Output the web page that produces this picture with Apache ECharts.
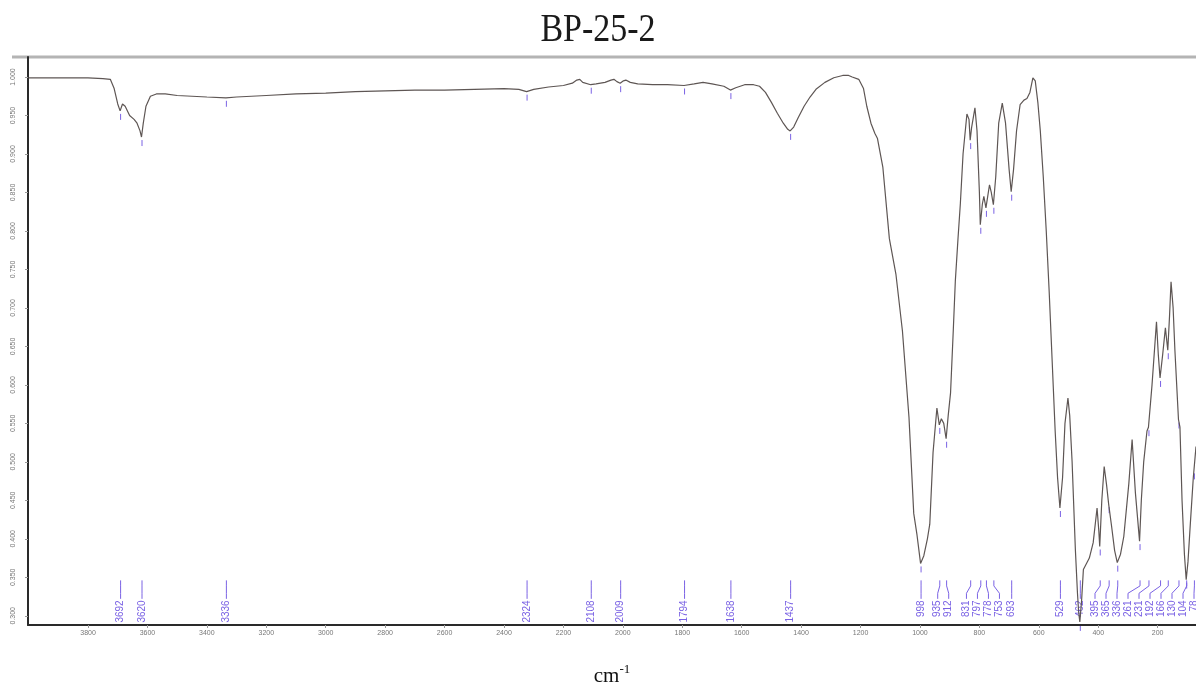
<!DOCTYPE html>
<html>
<head>
<meta charset="utf-8">
<script src="https://cdn.jsdelivr.net/npm/echarts@6/dist/echarts.min.js"></script>
<style>
  html, body { margin: 0; padding: 0; background: #ffffff; }
  #chart { width: 1196px; height: 686px; }
</style>
</head>
<body>
<div id="chart"></div>
<script>
// ---- data ----
const chartTitle = 'BP-25-2';

const wavenumber = [
  4000, 3900, 3800, 3750, 3725, 3712, 3700, 3692, 3684, 3675, 3660, 3645, 3635, 3625, 3620, 3614, 3605, 3590, 3570, 3540, 3500, 3450, 3400, 3336,
  3300, 3200, 3100, 3000, 2900, 2800, 2700, 2600, 2500, 2400, 2350, 2324, 2300, 2250, 2200, 2170, 2155, 2145, 2135, 2108, 2090, 2060, 2040, 2030, 2020, 2009,
  1998, 1990, 1975, 1950, 1900, 1850, 1794, 1760, 1730, 1700, 1660, 1638, 1620, 1590, 1560, 1540, 1520, 1500, 1480, 1460, 1445, 1437, 1425, 1410, 1390, 1370, 1350, 1320, 1290, 1260, 1240, 1228,
  1206, 1190, 1179, 1165, 1152, 1143, 1125, 1103, 1081, 1059, 1037, 1021, 1010, 998, 987, 975, 967, 956, 943, 935, 928, 920, 912, 905, 897,
  888, 881, 872, 864, 855, 842, 835, 831, 826, 815, 808, 800, 797, 790, 785, 778, 772, 766, 760, 753, 745, 735, 723, 712, 700, 693, 685, 675, 663, 650, 640, 630, 620, 612, 603,
  595, 585, 575, 565, 555, 545, 537, 529, 520, 512, 502, 496, 488, 477, 470, 466, 462, 456, 450, 445, 430, 417, 404, 398, 395,
  388, 380, 372, 365, 355, 345, 336, 325, 314, 297, 286, 275, 261, 255, 247, 236, 231, 219, 204, 198, 192, 183, 174, 166, 160, 155, 148, 142, 130, 125, 118, 110, 104, 98, 90, 80, 71
];

const transmittance = [
  0.999, 0.999, 0.999, 0.998, 0.997, 0.985, 0.965, 0.956, 0.965, 0.962, 0.950, 0.945, 0.940, 0.930, 0.922, 0.940, 0.962, 0.975, 0.978, 0.978, 0.976, 0.975, 0.974, 0.973,
  0.974, 0.976, 0.978, 0.979, 0.981, 0.982, 0.983, 0.983, 0.984, 0.985, 0.984, 0.981, 0.984, 0.987, 0.989, 0.992, 0.996, 0.997, 0.993, 0.990, 0.991, 0.993, 0.996, 0.997, 0.994, 0.992,
  0.995, 0.996, 0.993, 0.991, 0.990, 0.990, 0.989, 0.991, 0.993, 0.991, 0.988, 0.983, 0.986, 0.990, 0.990, 0.988, 0.980, 0.967, 0.953, 0.940, 0.932, 0.930, 0.935, 0.947, 0.962, 0.974, 0.984, 0.993, 0.999, 1.002, 1.002, 1.000,
  0.997, 0.985, 0.962, 0.940, 0.927, 0.920, 0.883, 0.790, 0.744, 0.670, 0.558, 0.433, 0.405, 0.368, 0.378, 0.400, 0.419, 0.512, 0.570, 0.548, 0.556, 0.550, 0.530, 0.560, 0.590,
  0.670, 0.735, 0.790, 0.836, 0.900, 0.952, 0.945, 0.918, 0.935, 0.960, 0.930, 0.850, 0.808, 0.835, 0.845, 0.830, 0.845, 0.860, 0.850, 0.834, 0.870, 0.940, 0.966, 0.940, 0.880, 0.851, 0.880, 0.930, 0.964, 0.970, 0.972, 0.980, 0.999, 0.995, 0.966,
  0.930, 0.870, 0.800, 0.720, 0.630, 0.540, 0.480, 0.440, 0.480, 0.550, 0.583, 0.560, 0.500, 0.386, 0.330, 0.305, 0.292, 0.320, 0.360, 0.362, 0.375, 0.395, 0.440, 0.410, 0.390,
  0.450, 0.494, 0.470, 0.445, 0.416, 0.385, 0.369, 0.380, 0.403, 0.472, 0.529, 0.460, 0.397, 0.450, 0.500, 0.540, 0.545, 0.600, 0.682, 0.640, 0.609, 0.640, 0.674, 0.645, 0.690, 0.734, 0.700, 0.645, 0.555, 0.545, 0.450, 0.380, 0.347, 0.370, 0.420, 0.480, 0.520
];

const peakLabels = [3692, 3620, 3336, 2324, 2108, 2009, 1794, 1638, 1437, 998, 935, 912, 831, 797, 778, 753, 693, 529, 462, 395, 365, 336, 261, 231, 192, 166, 130, 104, 78];

const xTickValues = [3800, 3600, 3400, 3200, 3000, 2800, 2600, 2400, 2200, 2000, 1800, 1600, 1400, 1200, 1000, 800, 600, 400, 200];
const yTickValues = [0.300, 0.350, 0.400, 0.450, 0.500, 0.550, 0.600, 0.650, 0.700, 0.750, 0.800, 0.850, 0.900, 0.950, 1.000];

// ---- chart ----
const PEAK_COLOR = '#7a62e4';
const chart = echarts.init(document.getElementById('chart'), null, { renderer: 'canvas' });

const curve = wavenumber.map((v, i) => [v, transmittance[i]]);

chart.setOption({
  animation: false,
  backgroundColor: '#ffffff',
  grid: { left: 28, right: 0, top: 57, bottom: 61, containLabel: false, outerBoundsMode: 'none' },
  xAxis: {
    type: 'value',
    inverse: true,
    min: 71,
    max: 4002,
    name: '{a|cm}{b|-1}',
    nameLocation: 'middle',
    nameGap: 38,
    nameTextStyle: {
      rich: {
        a: { fontFamily: 'Liberation Serif', fontSize: 21, color: '#111', lineHeight: 24, verticalAlign: 'bottom' },
        b: { fontFamily: 'Liberation Serif', fontSize: 13, color: '#111', lineHeight: 24, verticalAlign: 'top', padding: [0, 0, 10, 0] }
      }
    },
    axisLine: { show: true, onZero: false, lineStyle: { color: '#2a2a2a', width: 2 } },
    axisTick: { show: true, length: 3, customValues: xTickValues, lineStyle: { color: '#999' } },
    axisLabel: {
      customValues: xTickValues,
      fontSize: 7, color: '#777', margin: 5, fontFamily: 'Liberation Sans',
      formatter: v => String(Math.round(v))
    },
    splitLine: { show: false }
  },
  yAxis: {
    type: 'value',
    min: 0.288,
    max: 1.026,
    axisLine: { show: true, onZero: false, lineStyle: { color: '#2a2a2a', width: 2 } },
    axisTick: { show: true, length: 3, customValues: yTickValues, lineStyle: { color: '#999' } },
    axisLabel: {
      customValues: yTickValues,
      rotate: 90,
      fontSize: 7, color: '#777', margin: 11, fontFamily: 'Liberation Sans',
      formatter: v => v.toFixed(3)
    },
    splitLine: { show: false }
  },
  series: [{
    type: 'line',
    data: curve,
    showSymbol: false,
    symbol: 'none',
    smooth: false,
    clip: true,
    lineStyle: { color: '#5e5654', width: 1.2 }
  }]
});

// interpolate the curve at a wavenumber (for the peak tick marks)
function curveAt(v) {
  for (let i = 0; i < wavenumber.length - 1; i++) {
    const a = wavenumber[i], b = wavenumber[i + 1];
    if (v <= a && v >= b) {
      const t = (a - v) / (a - b);
      return transmittance[i] + t * (transmittance[i + 1] - transmittance[i]);
    }
  }
  return transmittance[transmittance.length - 1];
}

// spread crowded peak labels like the spectrometer software does
function spread(xs, gap, maxX) {
  const groups = xs.map((x, i) => ({ idx: [i], ideal: [x], start: x }));
  const place = g => {
    const n = g.idx.length;
    const mean = g.ideal.reduce((s, q) => s + q, 0) / n;
    g.start = mean - (n - 1) * gap / 2;
    if (g.start + (n - 1) * gap > maxX) g.start = maxX - (n - 1) * gap;
  };
  groups.forEach(place);
  let changed = true;
  while (changed) {
    changed = false;
    for (let i = 0; i < groups.length - 1; i++) {
      const a = groups[i], b = groups[i + 1];
      if (a.start + a.idx.length * gap > b.start) {
        a.idx = a.idx.concat(b.idx);
        a.ideal = a.ideal.concat(b.ideal);
        place(a);
        groups.splice(i + 1, 1);
        changed = true;
        break;
      }
    }
  }
  const out = new Array(xs.length);
  groups.forEach(g => g.idx.forEach((id, k) => { out[id] = g.start + k * gap; }));
  return out;
}

const peakPx = peakLabels.map(v => chart.convertToPixel({ xAxisIndex: 0 }, v));
const labelPx = spread(peakPx, 11, 1193.5);
const graphics = [];

// title (slightly tall, as in the reference)
graphics.push({
  type: 'text', silent: true, x: 598, y: 30, scaleY: 1.18,
  style: {
    text: chartTitle, fontSize: 34, fontFamily: 'Liberation Serif', fill: '#1a1a1a',
    align: 'center', verticalAlign: 'middle', textAlign: 'center', textVerticalAlign: 'middle'
  }
});

// top frame line
graphics.push({ type: 'line', silent: true, shape: { x1: 12, y1: 57, x2: 1196, y2: 57 }, style: { stroke: '#b4b4b4', lineWidth: 3 } });

const yLineTop = chart.convertToPixel({ yAxisIndex: 0 }, 0.346);
const yLineBot = chart.convertToPixel({ yAxisIndex: 0 }, 0.322);
const yText = chart.convertToPixel({ yAxisIndex: 0 }, 0.320);

peakLabels.forEach((v, i) => {
  const px = peakPx[i] + 0.5, lx = labelPx[i] + 0.5;
  const cy = chart.convertToPixel({ yAxisIndex: 0 }, curveAt(v));
  graphics.push({ type: 'line', silent: true, shape: { x1: px, y1: cy + 3, x2: px, y2: cy + 9 }, style: { stroke: PEAK_COLOR, lineWidth: 1 } });
  const bend1 = yLineTop + (yLineBot - yLineTop) * 0.3;
  const bend2 = yLineTop + (yLineBot - yLineTop) * 0.7;
  graphics.push({
    type: 'polyline', silent: true,
    shape: { points: [[px, yLineTop], [px, bend1], [lx, bend2], [lx, yLineBot]] },
    style: { stroke: PEAK_COLOR, lineWidth: 1, fill: null }
  });
  graphics.push({
    type: 'text', silent: true,
    x: lx, y: yText, rotation: Math.PI / 2,
    style: {
      text: String(v), fontSize: 10, fontFamily: 'Liberation Sans', fill: PEAK_COLOR,
      align: 'right', verticalAlign: 'middle', textAlign: 'right', textVerticalAlign: 'middle'
    }
  });
});

chart.setOption({ graphic: graphics });
</script>
</body>
</html>
